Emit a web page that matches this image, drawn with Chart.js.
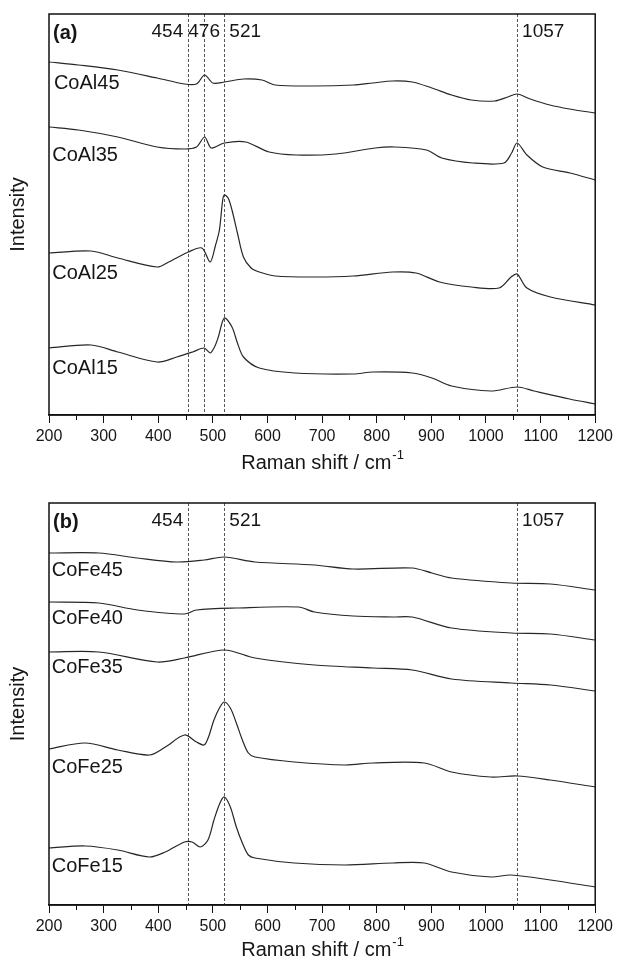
<!DOCTYPE html>
<html>
<head>
<meta charset="utf-8">
<title>Raman spectra CoAl / CoFe</title>
<script src="https://cdn.jsdelivr.net/npm/chart.js@4.4.1/dist/chart.umd.min.js"></script>
<style>
  html, body { margin: 0; padding: 0; background: #fff; }
  .panel { width: 617px; height: 480px; }
</style>
</head>
<body>
<div class="panel"><canvas id="chartA" width="617" height="480"></canvas></div>
<div class="panel"><canvas id="chartB" width="617" height="480"></canvas></div>
<script>
// =========================================================
// DATA (Raman shift in cm-1 / relative intensity)
// =========================================================
const xTicks = [200, 300, 400, 500, 600, 700, 800, 900, 1000, 1100, 1200];
const minorTicks = [250, 350, 450, 550, 650, 750, 850, 950, 1050, 1150];

// --- panel (a) ---
const coAl45X = [200,254,326,398,448,470,485,500,521,556,590,614,686,757,793,829,865,901,937,973,1016,1040,1057,1081,1117,1153,1200];
const coAl45Y = [353,350,345,337,331,331,340,332,333,336,335,330,329,330,332,334,333,327,320,315,314,318,321,316,310,306,302];

const coAl35X = [200,254,326,398,448,470,485,497,521,560,603,653,725,797,833,891,919,976,1033,1047,1057,1075,1104,1154,1200];
const coAl35Y = [288,285,278,268,266,268,278,267,272,273,263,260,261,267,268,265,257,252,252,262,272,260,248,242,235];

const coAl25X = [200,277,326,398,419,455,480,495,505,512,518,521,528,535,545,556,570,585,614,686,757,829,872,915,973,1024,1046,1057,1075,1118,1200];
const coAl25Y = [162,164,157,148,153,163,167,153,170,185,215,220,217,205,182,158,147,143,139,138,139,143,142,133,128,127,138,141,127,118,110];

const coAl15X = [200,277,326,398,434,463,484,495,503,510,521,535,545,556,585,650,757,793,865,901,937,1009,1057,1088,1153,1200];
const coAl15Y = [67,70,63,53,58,63,67,62,68,78,97,88,72,58,47,42,41,43,42,37,29,24,28,24,16,11];

const namesA = ['CoAl45', 'CoAl35', 'CoAl25', 'CoAl15'];
const nameXA = [209, 206, 206, 206];
const nameYA = [332, 260, 142, 47];
const peaksA = [454, 484, 521, 1057];
const peakTextA = ['454', '476', '521', '1057'];
const peakAlignA = ['right', 'center', 'left', 'left'];

// --- panel (b) ---
const coFe45X = [200,291,362,434,484,521,577,686,757,865,901,937,1046,1118,1200];
const coFe45Y = [352,352,347,343,345,348,343,340,336,337,332,327,322,321,315];

const coFe40X = [200,291,362,448,470,542,657,686,757,829,865,937,1046,1118,1200];
const coFe40Y = [303,302,295,291,295,297,298,293,289,288,288,277,272,271,265];

const coFe35X = [200,291,398,448,521,577,686,793,865,937,1046,1118,1200];
const coFe35Y = [253,253,243,247,255,247,240,237,235,226,222,220,214];

const coFe25X = [200,266,326,384,413,448,470,484,492,502,513,521,532,543,554,565,577,649,742,793,887,937,1009,1057,1118,1200];
const coFe25Y = [156,162,155,150,158,170,163,160,168,185,198,203,197,182,165,152,148,143,140,142,142,133,128,129,125,118];

const coFe15X = [200,266,326,384,413,448,462,477,491,502,513,521,532,543,554,565,577,649,742,829,887,937,1009,1046,1118,1200];
const coFe15Y = [57,59,55,48,53,63,63,58,65,85,102,108,98,78,62,50,47,42,40,42,42,33,28,30,25,18];

const namesB = ['CoFe45', 'CoFe40', 'CoFe35', 'CoFe25', 'CoFe15'];
const nameXB = [205, 205, 205, 205, 205];
const nameYB = [335, 287, 238, 138, 39];
const peaksB = [454, 521, 1057];
const peakTextB = ['454', '521', '1057'];
const peakAlignB = ['right', 'left', 'left'];

// =========================================================
// STYLE
// =========================================================
const FONT = "'Liberation Sans', Arial, Helvetica, sans-serif";
const INK = '#161616';
const TRACE = '#262626';

function toPoints(xs, ys) {
    return xs.map((x, i) => ({ x: x, y: ys[i] }));
}

// dashed peak markers, frame, labels, axis title
const decorPlugin = {
    id: 'ramanDecor',
    beforeDatasetsDraw(chart, args, opts) {
        const { ctx, chartArea: a, scales: { x } } = chart;
        ctx.save();
        ctx.strokeStyle = '#555';
        ctx.lineWidth = 1;
        ctx.setLineDash([3, 2]);
        opts.peaks.forEach(p => {
            const px = Math.round(x.getPixelForValue(p)) + 0.5;
            ctx.beginPath();
            ctx.moveTo(px, a.top);
            ctx.lineTo(px, a.bottom);
            ctx.stroke();
        });
        ctx.restore();
    },
    afterDraw(chart, args, opts) {
        const { ctx, chartArea: a, scales: { x, y } } = chart;
        ctx.save();

        // frame
        ctx.strokeStyle = '#111';
        ctx.lineWidth = 1.5;
        ctx.strokeRect(a.left, a.top, a.right - a.left, a.bottom - a.top);

        // minor ticks
        ctx.lineWidth = 1;
        minorTicks.forEach(v => {
            const px = Math.round(x.getPixelForValue(v)) + 0.5;
            ctx.beginPath();
            ctx.moveTo(px, a.bottom);
            ctx.lineTo(px, a.bottom + 5);
            ctx.stroke();
        });

        ctx.fillStyle = INK;
        ctx.textBaseline = 'middle';

        // panel letter
        ctx.font = `bold 20px ${FONT}`;
        ctx.textAlign = 'left';
        ctx.fillText(opts.letter, a.left + 4, a.top + 19);

        // peak labels
        ctx.font = `19px ${FONT}`;
        opts.peaks.forEach((p, i) => {
            const px = x.getPixelForValue(p);
            const al = opts.align[i];
            ctx.textAlign = al;
            const dx = al === 'right' ? -4.5 : (al === 'left' ? 5 : 0);
            ctx.fillText(opts.peakText[i], px + dx, a.top + 18);
        });

        // sample names
        ctx.font = `20px ${FONT}`;
        ctx.textAlign = 'left';
        opts.names.forEach((n, i) => {
            ctx.fillText(n, x.getPixelForValue(opts.nameX[i]), y.getPixelForValue(opts.nameY[i]));
        });

        // x axis title with superscript
        const t1 = 'Raman shift / cm';
        const t2 = '-1';
        ctx.font = `20px ${FONT}`;
        const w1 = ctx.measureText(t1).width;
        ctx.font = `13px ${FONT}`;
        const w2 = ctx.measureText(t2).width;
        const sx = (a.left + a.right) / 2 - (w1 + w2) / 2;
        const ty = a.bottom + opts.titleGap;
        ctx.font = `20px ${FONT}`;
        ctx.fillText(t1, sx, ty);
        ctx.font = `13px ${FONT}`;
        ctx.fillText(t2, sx + w1 + 1, ty - 8);

        ctx.restore();
    }
};

function buildPanel(canvasId, series, cfg) {
    return new Chart(document.getElementById(canvasId), {
        type: 'line',
        data: {
            datasets: series.map(s => ({
                label: s.name,
                data: toPoints(s.xs, s.ys),
                borderColor: TRACE,
                borderWidth: 1.2,
                pointRadius: 0,
                tension: 0.3,
                fill: false
            }))
        },
        options: {
            responsive: false,
            animation: false,
            devicePixelRatio: 1,
            layout: { padding: cfg.padding },
            scales: {
                x: {
                    type: 'linear',
                    min: 200,
                    max: 1200,
                    afterBuildTicks: s => { s.ticks = xTicks.map(v => ({ value: v })); },
                    ticks: {
                        color: INK,
                        font: { family: FONT, size: 16 },
                        padding: 4,
                        maxRotation: 0,
                        autoSkip: false,
                        callback: v => String(v)
                    },
                    grid: { drawOnChartArea: false, drawTicks: true, tickLength: 8, color: '#111', lineWidth: 1 },
                    border: { display: true, color: '#111', width: 1.5 },
                    afterFit: s => { s.height = 50; }
                },
                y: {
                    type: 'linear',
                    min: 0,
                    max: cfg.yMax,
                    ticks: { display: false },
                    grid: { display: false },
                    border: { display: false },
                    title: {
                        display: true,
                        text: 'Intensity',
                        color: INK,
                        font: { family: FONT, size: 20 },
                        padding: { top: 6, bottom: 0 }
                    },
                    afterFit: s => { s.width = 49; }
                }
            },
            plugins: {
                legend: { display: false },
                tooltip: { enabled: false },
                ramanDecor: cfg.decor
            }
        },
        plugins: [decorPlugin]
    });
}

buildPanel('chartA', [
    { name: 'CoAl45', xs: coAl45X, ys: coAl45Y },
    { name: 'CoAl35', xs: coAl35X, ys: coAl35Y },
    { name: 'CoAl25', xs: coAl25X, ys: coAl25Y },
    { name: 'CoAl15', xs: coAl15X, ys: coAl15Y }
], {
    padding: { top: 14, right: 20, bottom: 15, left: 0 },
    yMax: 401,
    decor: {
        letter: '(a)', peaks: peaksA, peakText: peakTextA, align: peakAlignA,
        names: namesA, nameX: nameXA, nameY: nameYA, titleGap: 48
    }
});

buildPanel('chartB', [
    { name: 'CoFe45', xs: coFe45X, ys: coFe45Y },
    { name: 'CoFe40', xs: coFe40X, ys: coFe40Y },
    { name: 'CoFe35', xs: coFe35X, ys: coFe35Y },
    { name: 'CoFe25', xs: coFe25X, ys: coFe25Y },
    { name: 'CoFe15', xs: coFe15X, ys: coFe15Y }
], {
    padding: { top: 23, right: 20, bottom: 5, left: 0 },
    yMax: 402,
    decor: {
        letter: '(b)', peaks: peaksB, peakText: peakTextB, align: peakAlignB,
        names: namesB, nameX: nameXB, nameY: nameYB, titleGap: 45
    }
});
</script>
</body>
</html>
